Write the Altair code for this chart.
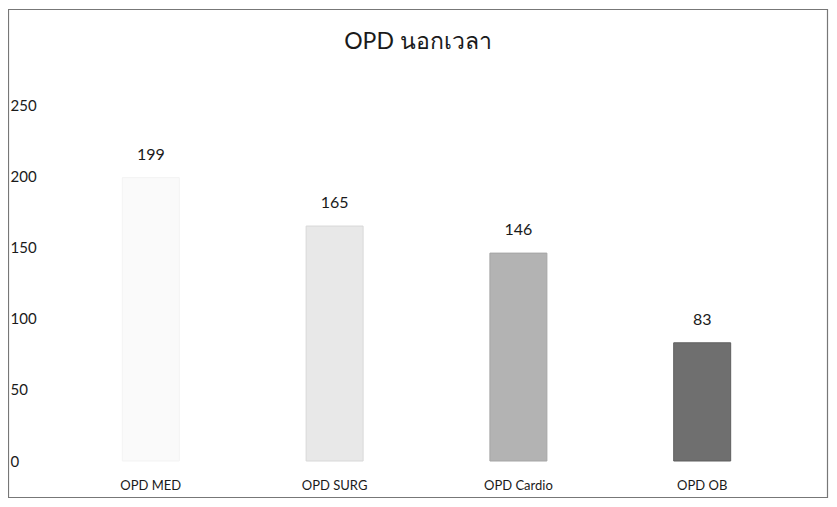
import altair as alt
import pandas as pd

categories = ["OPD MED", "OPD SURG", "OPD Cardio", "OPD OB"]
values = [199, 165, 146, 83]
y_ticks = [0, 50, 100, 150, 200, 250]
title_text = "OPD นอกเวลา"

fill_colors = ["#fafafa", "#e8e8e8", "#b3b3b3", "#6f6f6f"]
stroke_colors = ["#f3f3f3", "#d8d8d8", "#a5a5a5", "#5f5f5f"]

df = pd.DataFrame({"cat": categories, "val": values})

FONT = "Lato, 'Noto Sans', sans-serif"

x = alt.X("cat:N", sort=categories, title=None,
          scale=alt.Scale(paddingInner=0.69, paddingOuter=0.35),
          axis=alt.Axis(labelAngle=0, ticks=False, domain=False, labelPadding=18,
                        labelFontSize=13, labelColor="#1a1a1a", labelFont=FONT))
y = alt.Y("val:Q", title=None,
          scale=alt.Scale(domain=[0, 250], nice=False),
          axis=alt.Axis(values=y_ticks, grid=False, ticks=False, domain=False,
                        labelAlign="left", labelPadding=48, labelFontSize=15,
                        labelColor="#1a1a1a", labelFont=FONT))

bars = alt.Chart(df).mark_bar(strokeWidth=1).encode(
    x=x, y=y,
    fill=alt.Fill("cat:N", scale=alt.Scale(domain=categories, range=fill_colors), legend=None),
    stroke=alt.Stroke("cat:N", scale=alt.Scale(domain=categories, range=stroke_colors), legend=None),
)

labels = alt.Chart(df).mark_text(dy=-23, baseline="middle", fontSize=16,
                                 color="#1a1a1a", font=FONT).encode(
    x=alt.X("cat:N", sort=categories), y="val:Q", text="val:Q"
)

border = alt.Chart(pd.DataFrame({"a": [0]})).mark_rect(
    fill=None, stroke="#777", strokeWidth=1.2
).encode(
    x=alt.value(-49.5), x2=alt.value(769.5), y=alt.value(-95.5), y2=alt.value(392.5)
)

title = alt.Chart(pd.DataFrame({"t": [title_text]})).mark_text(
    fontSize=23, font=FONT, color="#1a1a1a", baseline="middle", align="center"
).encode(text="t:N", x=alt.value(360), y=alt.value(-63))

chart = alt.layer(border, bars, labels, title).properties(
    width=737, height=356,
    background="white",
    autosize=alt.AutoSizeParams(type="none"),
    padding={"left": 50, "top": 97, "right": 34, "bottom": 38},
).configure_view(strokeWidth=0, stroke=None)

chart.save("out.html", embed_options={"renderer": "svg", "actions": False})
